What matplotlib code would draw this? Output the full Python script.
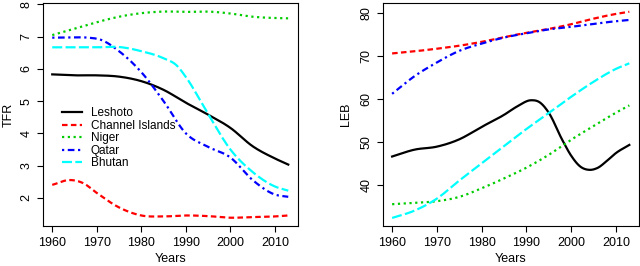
import numpy as np
import matplotlib
matplotlib.use("Agg")
import matplotlib.pyplot as plt

plt.rcParams['font.family'] = ['Liberation Sans', 'DejaVu Sans']

countries = ["Leshoto", "Channel Islands", "Niger", "Qatar", "Bhutan"]
colors = ["black", "red", "#00cc00", "blue", "cyan"]
dashes = [None, (2.5, 1.5), (1, 1.6), (1, 1.6, 3, 1.6), (4.5, 1.5)]

# TFR (left panel)
yrs_les_tfr = [1960, 1965, 1970, 1975, 1980, 1985, 1990, 1995, 2000, 2005, 2010, 2013]
tfr_les = [5.83, 5.8, 5.8, 5.76, 5.62, 5.35, 4.95, 4.58, 4.17, 3.6, 3.22, 3.03]
yrs_chi_tfr = [1960, 1964, 1967, 1970, 1975, 1980, 1985, 1990, 1995, 2000, 2005, 2010, 2013]
tfr_chi = [2.4, 2.55, 2.45, 2.15, 1.7, 1.45, 1.42, 1.45, 1.43, 1.38, 1.4, 1.42, 1.45]
yrs_nig_tfr = [1960, 1965, 1970, 1975, 1980, 1985, 1990, 1995, 2000, 2005, 2010, 2013]
tfr_nig = [7.05, 7.25, 7.45, 7.62, 7.73, 7.78, 7.77, 7.78, 7.72, 7.62, 7.58, 7.57]
yrs_qat_tfr = [1960, 1965, 1968, 1971, 1975, 1980, 1985, 1990, 1995, 2000, 2005, 2010, 2013]
tfr_qat = [6.97, 6.98, 6.97, 6.9, 6.55, 5.9, 5.0, 4.0, 3.58, 3.25, 2.55, 2.1, 2.03]
yrs_bhu_tfr = [1960, 1965, 1970, 1975, 1980, 1985, 1988, 1990, 1995, 2000, 2005, 2010, 2013]
tfr_bhu = [6.67, 6.67, 6.67, 6.68, 6.55, 6.33, 6.1, 5.75, 4.6, 3.5, 2.8, 2.35, 2.22]

# LEB (right panel)
yrs_les_leb = [1960, 1965, 1970, 1975, 1980, 1985, 1988, 1991, 1993, 1995, 1998, 2000, 2002, 2004, 2006, 2008, 2010, 2013]
leb_les = [46.6, 48.2, 48.9, 50.6, 53.5, 56.3, 58.3, 59.7, 59.2, 56.8, 50.5, 46.8, 44.3, 43.5, 44.0, 45.6, 47.4, 49.3]
yrs_leb = [1960, 1965, 1970, 1975, 1980, 1985, 1990, 1995, 2000, 2005, 2010, 2013]
leb_chi = [70.6, 71.1, 71.7, 72.4, 73.3, 74.4, 75.4, 76.3, 77.4, 78.7, 79.8, 80.3]
leb_nig = [35.5, 35.8, 36.2, 37.2, 39.2, 41.5, 44.0, 47.0, 50.5, 53.7, 56.8, 58.5]
leb_qat = [61.2, 65.3, 68.5, 71.2, 72.9, 74.3, 75.3, 76.2, 76.8, 77.5, 78.1, 78.4]
leb_bhu = [32.3, 34.0, 36.8, 41.0, 45.0, 49.0, 53.0, 56.7, 60.5, 64.0, 67.0, 68.3]

tfr_series = [(yrs_les_tfr, tfr_les), (yrs_chi_tfr, tfr_chi), (yrs_nig_tfr, tfr_nig),
              (yrs_qat_tfr, tfr_qat), (yrs_bhu_tfr, tfr_bhu)]
leb_series = [(yrs_les_leb, leb_les), (yrs_leb, leb_chi), (yrs_leb, leb_nig),
              (yrs_leb, leb_qat), (yrs_leb, leb_bhu)]

fig = plt.figure(figsize=(6.4, 2.66), dpi=100)
ax1 = fig.add_axes([0.067, 0.15, 0.398, 0.838])
ax2 = fig.add_axes([0.598, 0.15, 0.400, 0.838])


def smooth(xs, ys):
    # piecewise cubic through the read points, only to draw the curve smoothly
    xs = np.asarray(xs, float)
    ys = np.asarray(ys, float)
    xx = np.linspace(xs[0], xs[-1], 300)
    n = len(xs)
    m = np.gradient(ys, xs)
    out = np.empty_like(xx)
    for k, x in enumerate(xx):
        i = min(np.searchsorted(xs, x, side='right') - 1, n - 2)
        h = xs[i + 1] - xs[i]
        t = (x - xs[i]) / h
        h00 = 2 * t**3 - 3 * t**2 + 1
        h10 = t**3 - 2 * t**2 + t
        h01 = -2 * t**3 + 3 * t**2
        h11 = t**3 - t**2
        out[k] = h00 * ys[i] + h10 * h * m[i] + h01 * ys[i + 1] + h11 * h * m[i + 1]
    return xx, out


for ax, series in [(ax1, tfr_series), (ax2, leb_series)]:
    for (xs, ys), name, c, d in zip(series, countries, colors, dashes):
        sx, sy = smooth(xs, ys)
        line, = ax.plot(sx, sy, color=c, lw=1.6, label=name)
        if d is not None:
            line.set_dashes(d)
    ax.set_xlim(1957.9, 2015.1)
    ax.set_xticks([1960, 1970, 1980, 1990, 2000, 2010])
    ax.tick_params(direction='out', length=4.5, width=0.8, labelsize=9, pad=3)
    ax.set_xlabel("Years", fontsize=9, labelpad=3)
    for s in ax.spines.values():
        s.set_linewidth(0.8)

ax1.set_ylim(1.12, 8.04)
ax1.set_yticks([2, 3, 4, 5, 6, 7, 8])
ax1.set_ylabel("TFR", fontsize=9, labelpad=4)

ax2.set_ylim(30.4, 82.3)
ax2.set_yticks([40, 50, 60, 70, 80])
ax2.set_ylabel("LEB", fontsize=9, labelpad=6)

for ax in (ax1, ax2):
    for lab in ax.get_yticklabels():
        lab.set_rotation(90)
        lab.set_va('center')

ax1.legend(loc='upper left', bbox_to_anchor=(0.075, 0.534), frameon=False,
           fontsize=8.5, handlelength=1.7, handletextpad=0.75, labelspacing=0.05,
           borderaxespad=0, borderpad=0)

fig.savefig("out.png", dpi=100)
